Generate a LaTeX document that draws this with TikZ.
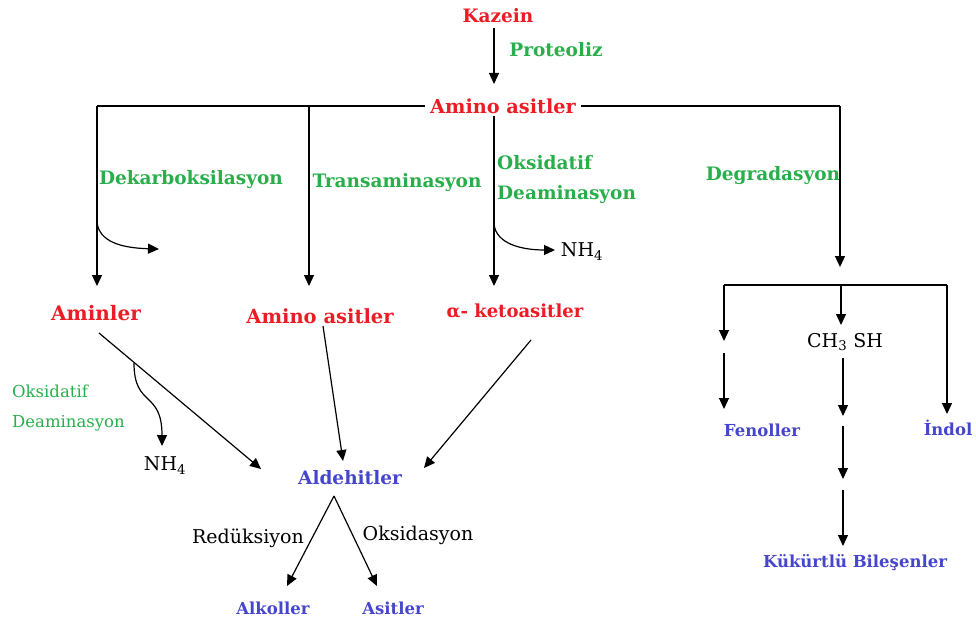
\documentclass[tikz,border=0pt]{standalone}
\usepackage{fontspec}
\setmainfont{DejaVu Serif}
\usetikzlibrary{arrows.meta}
\definecolor{cred}{RGB}{236,28,36}
\definecolor{cgreen}{RGB}{40,175,75}
\definecolor{cblue}{RGB}{70,70,205}
\tikzset{
  lbl/.style={inner sep=0pt, font=\fontsize{18.5}{22}\selectfont\bfseries},
  small/.style={font=\fontsize{16.5}{20}\selectfont\bfseries},
  redlbl/.style={lbl, text=cred},
  greenlbl/.style={lbl, text=cgreen},
  bluelbl/.style={lbl, text=cblue},
  plainlbl/.style={inner sep=0pt, font=\fontsize{19}{22}\selectfont},
  conn/.style={line width=1.2pt, black},
  arr/.style={conn, -{Triangle[length=11pt,width=10pt]}},
}
\begin{document}
\begin{tikzpicture}[x=1pt,y=-1pt]
\useasboundingbox[fill=white] (0,0) rectangle (976,623);

% ---- labels ----
\node[redlbl] (kazein) at (498,16) {Kazein};
\node[greenlbl] (proteoliz) at (556,50) {Proteoliz};
\node[redlbl, font=\fontsize{19.3}{23}\selectfont\bfseries, inner xsep=5pt, inner ysep=2pt] (amino) at (503,106) {Amino asitler};
\node[greenlbl] (dekarb) at (191,180) {Dekarboksilasyon};
\node[greenlbl] (transam) at (397,183) {Transaminasyon};
\node[greenlbl, anchor=west, align=left] (oksdeam) at (497,180) {Oksidatif\\[8pt]Deaminasyon};
\node[greenlbl] (degr) at (773,176) {Degradasyon};
\node[plainlbl] (nhA) at (582,252) {NH\textsubscript{4}};
\node[redlbl, font=\fontsize{20}{24}\selectfont\bfseries] (aminler) at (96,313) {Aminler};
\node[redlbl, font=\fontsize{19.5}{24}\selectfont\bfseries] (aminoB) at (320,316) {Amino asitler};
\node[redlbl, font=\fontsize{18}{22}\selectfont\bfseries] (keto) at (515,311) {α- ketoasitler};
\node[plainlbl, text=cgreen, anchor=west, align=left, font=\fontsize{16.5}{20}\selectfont] (oksdeamB) at (12,408) {Oksidatif\\[10pt]Deaminasyon};
\node[plainlbl] (nhB) at (165,466) {NH\textsubscript{4}};
\node[bluelbl] (aldeh) at (350,478) {Aldehitler};
\node[plainlbl] (reduk) at (248,538) {Redüksiyon};
\node[plainlbl] (oksid) at (418,535) {Oksidasyon};
\node[bluelbl, small] (alkol) at (273,608) {Alkoller};
\node[bluelbl, small] (asit) at (393,608) {Asitler};
\node[plainlbl] (chsh) at (845,342) {CH\textsubscript{3} SH};
\node[bluelbl, small] (fenol) at (762,430) {Fenoller};
\node[bluelbl, small] (indol) at (948,428) {İndol};
\node[bluelbl, small] (kukurt) at (855,563) {Kükürtlü Bileşenler};

% ---- junction points ----
\coordinate (busL) at (97,106);
\coordinate (busT) at (309,106);
\coordinate (busO) at (494,106);
\coordinate (busR) at (840,106);
\coordinate (tipL) at (97,286);
\coordinate (tipT) at (309,286);
\coordinate (tipO) at (494,286);
\coordinate (tipR) at (840,267);
\coordinate (decS) at (97,222);
\coordinate (decE) at (159,249);
\coordinate (oxS) at (494,224);
\coordinate (oxE) at (555,250);
\coordinate (bus2L) at (724,285);
\coordinate (bus2M) at (841,285);
\coordinate (bus2R) at (947,285);

% ---- top ----
\draw[arr] (494,28) -- (494,84);
\draw[conn] (amino.west) -- (busL);
\draw[conn] (amino.east) -- (busR);
\draw[arr] (busL) -- (tipL);
\draw[arr] (busT) -- (tipT);
\draw[arr] (amino.south -| busO) -- (tipO);
\draw[arr] (busR) -- (tipR);
\draw[arr] (decS) .. controls (99,242) and (122,248) .. (decE);
\draw[arr] (oxS) .. controls (496,244) and (522,250) .. (oxE);

% ---- lower left ----
\coordinate (amS) at (99,333);
\coordinate (amE) at (261,469);
\coordinate (amBr) at (134,363);
\coordinate (nhTip) at (162,446);
\draw[arr] (amS) -- (amE);
\draw[arr] (amBr) .. controls (134,408) and (162,390) .. (nhTip);
\draw[arr] (323,326) -- (343,461);
\draw[arr] (531,340) -- (424,468);
\coordinate (alTop) at (334,496);
\draw[arr] (alTop) -- (287,586);
\draw[arr] (alTop) -- (377,586);

% ---- degradation branch ----
\draw[conn] (bus2L) -- (bus2R);
\draw[arr] (bus2L) -- (724,341);
\draw[arr] (724,353) -- (724,409);
\draw[arr] (bus2M) -- (841,325);
\draw[arr] (bus2R) -- (947,414);
\draw[arr] (843,358) -- (843,416);
\draw[arr] (843,426) -- (843,479);
\draw[arr] (843,490) -- (843,546);
\end{tikzpicture}
\end{document}
